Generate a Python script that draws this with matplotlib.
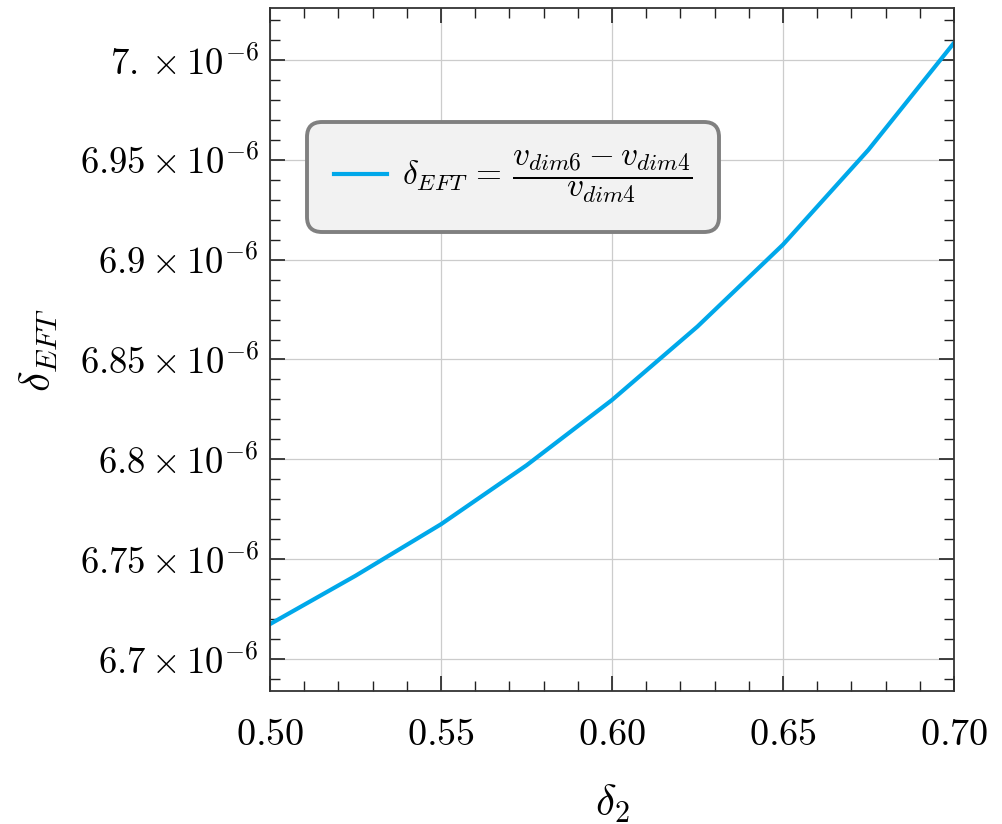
import matplotlib
matplotlib.use("Agg")
import matplotlib.pyplot as plt
from matplotlib.ticker import MultipleLocator, FuncFormatter

# Data (y values in units of 1e-6)
delta2 = [0.500, 0.525, 0.550, 0.575, 0.600, 0.625, 0.650, 0.675, 0.700]
delta_eft_e6 = [6.7175, 6.7417, 6.7675, 6.7970, 6.8297, 6.8665, 6.9075, 6.9550, 7.0085]
legend_label = r'$\delta_{EFT}\, =\, \dfrac{v_{dim6} - v_{dim4}}{v_{dim4}}$'

plt.rcParams['mathtext.fontset'] = 'cm'
plt.rcParams['font.family'] = 'serif'
plt.rcParams['font.serif'] = ['cmr10', 'DejaVu Serif']
plt.rcParams['axes.unicode_minus'] = False

fig = plt.figure(figsize=(10.03, 8.24), dpi=100)
ax = fig.add_axes([0.2692, 0.1614, 0.6819, 0.8289])

y = [v * 1e-6 for v in delta_eft_e6]
ax.plot(delta2, y, color='#00A8EA', lw=3.0, label=legend_label)

ax.set_xlim(0.5, 0.7)
ax.set_ylim(6.684e-6, 7.026e-6)

ax.xaxis.set_major_locator(MultipleLocator(0.05))
ax.xaxis.set_minor_locator(MultipleLocator(0.01))
ax.yaxis.set_major_locator(MultipleLocator(0.05e-6))
ax.yaxis.set_minor_locator(MultipleLocator(0.01e-6))

ax.xaxis.set_major_formatter(FuncFormatter(lambda v, p: r'$%.2f$' % v))
def yfmt(v, p):
    m = v * 1e6
    s = ('%.2f' % m).rstrip('0')
    return r'$%s\times10^{-6}$' % s
ax.yaxis.set_major_formatter(FuncFormatter(yfmt))

ax.tick_params(which='both', direction='in', top=True, right=True, color='#222222')
ax.tick_params(which='major', length=11, width=1.2)
ax.tick_params(which='minor', length=7, width=1.0)
ax.tick_params(axis='x', which='major', labelsize=27.5, pad=20)
ax.tick_params(axis='y', which='major', labelsize=26.5, pad=8)
for s in ax.spines.values():
    s.set_linewidth(1.3)
    s.set_color('#333333')

ax.grid(True, which='major', color='#cccccc', lw=0.9)

ax.set_xlabel(r'$\delta_2$', fontsize=31, labelpad=22)
ax.set_ylabel(r'$\delta_{EFT}$', fontsize=31, labelpad=14)

leg = ax.legend(loc='upper left', bbox_to_anchor=(0.054, 0.833), borderaxespad=0,
                fontsize=24, fancybox=True, framealpha=1.0, facecolor='#f2f2f2',
                edgecolor='#808080', handlelength=1.6, handletextpad=0.45, borderpad=0.8)
leg.get_frame().set_linewidth(2.8)
leg.get_frame().set_boxstyle('round', pad=0, rounding_size=0.45)

fig.savefig('out.png', dpi=100)
